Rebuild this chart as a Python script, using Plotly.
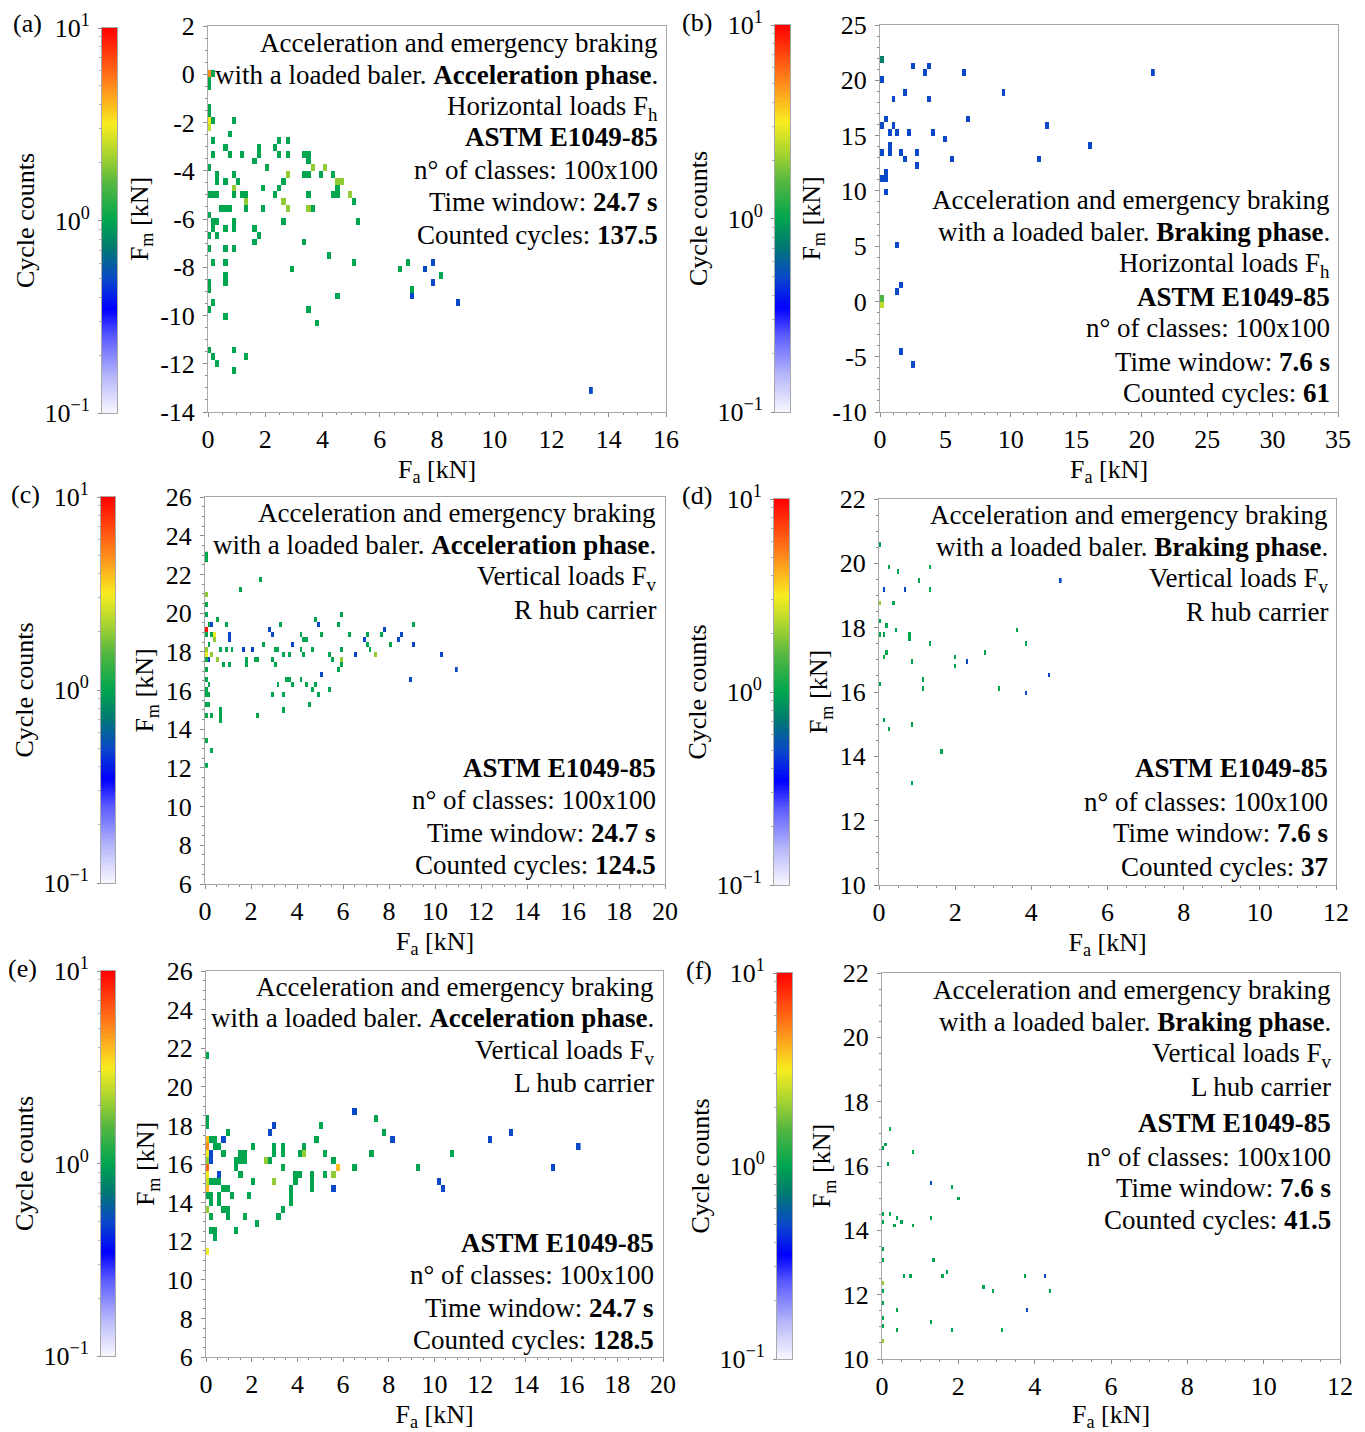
import numpy as np
import plotly.graph_objects as go

W, H = 1365, 1432
FONT = "Liberation Serif"

# ---------------- data: rainflow matrix cells (Fa [kN], Fm [kN], cycle count) ----------------
cells_a = [
    (0.0, 0.07, 5), (0.17, 0.0, 1), (0.0, -0.24, 1), (0.0, -0.54, 1), (0.0, -1.4, 1), (0.0, -1.7, 1),
    (0.0, -1.96, 3), (0.0, -2.2, 2.5), (0.17, -1.96, 1), (0.9, -1.96, 1), (0.74, -2.5, 1), (0.2, -2.8, 1),
    (0.6, -3.03, 1), (0.2, -3.34, 1), (0.74, -3.34, 1), (1.17, -3.34, 1), (1.58, -3.6, 1), (1.74, -3.07, 1),
    (1.74, -3.34, 1), (2.29, -3.07, 1), (2.44, -2.8, 1), (2.44, -3.34, 1), (2.84, -2.8, 1), (2.84, -3.34, 1),
    (2.0, -3.9, 1), (0.0, -3.9, 1), (3.4, -3.34, 1), (3.53, -3.34, 1), (3.53, -3.62, 1), (3.68, -3.9, 2),
    (4.14, -3.9, 2), (2.84, -4.17, 2), (3.4, -4.17, 1), (3.53, -4.17, 1), (3.96, -4.17, 1), (4.38, -4.17, 1),
    (4.53, -4.45, 2), (4.68, -4.45, 2), (4.53, -4.72, 1), (0.32, -4.17, 1), (0.32, -4.45, 1), (0.6, -4.45, 1),
    (0.9, -4.17, 1), (1.0, -4.45, 1), (0.9, -4.72, 2), (1.86, -4.72, 1), (2.44, -4.72, 1), (2.65, -4.45, 1),
    (2.29, -5.0, 1), (2.6, -5.27, 2), (2.84, -5.55, 2), (3.53, -5.0, 1), (3.53, -5.55, 2), (3.68, -5.55, 1),
    (4.41, -5.0, 1), (4.53, -5.0, 1), (4.96, -5.0, 2), (5.11, -5.27, 1), (5.23, -6.1, 1), (0.0, -5.0, 1),
    (0.17, -5.0, 1), (0.32, -5.0, 1), (0.9, -5.0, 1), (1.17, -5.0, 1), (1.32, -5.0, 1), (1.32, -5.27, 2),
    (1.86, -5.55, 1), (1.32, -5.55, 1), (0.47, -5.55, 1), (0.6, -5.55, 1), (0.74, -5.55, 1), (0.0, -5.83, 1),
    (0.17, -6.1, 1), (0.32, -6.1, 1), (0.9, -6.1, 1), (2.6, -6.1, 1), (0.17, -6.42, 1), (0.6, -6.42, 1),
    (0.9, -6.42, 1), (1.6, -6.42, 1), (1.74, -6.7, 1), (1.6, -6.97, 1), (0.0, -6.7, 1), (0.32, -6.7, 1),
    (3.4, -6.97, 1), (0.0, -7.25, 1), (0.6, -7.25, 1), (0.9, -7.25, 1), (4.26, -7.55, 1), (0.17, -7.83, 1),
    (0.6, -7.83, 1), (2.99, -8.1, 1), (5.11, -7.83, 1), (0.6, -8.38, 1), (0.6, -8.66, 1), (0.0, -8.66, 1),
    (0.0, -8.93, 1), (6.63, -8.1, 1), (6.93, -7.83, 1), (7.2, -8.93, 1), (7.2, -9.2, 0.5), (7.63, -8.1, 0.5),
    (7.9, -7.83, 0.5), (7.9, -8.66, 0.5), (8.17, -8.38, 1), (8.75, -9.51, 0.5), (4.53, -9.2, 1), (0.17, -9.51, 1),
    (0.0, -9.79, 1), (0.6, -10.06, 1), (3.53, -9.79, 1), (3.84, -10.34, 1), (0.0, -11.45, 1), (0.17, -11.72, 1),
    (0.32, -12.0, 1), (0.9, -11.45, 1), (1.32, -11.72, 1), (0.9, -12.27, 1), (13.36, -13.14, 0.5),
]

cells_b = [
    (0.13, 21.9, 0.75), (0.13, 20.1, 0.5), (2.57, 21.3, 0.5), (3.74, 21.3, 0.5), (3.47, 20.7, 0.5),
    (6.47, 20.7, 0.5), (20.85, 20.7, 0.5), (1.97, 18.9, 0.5), (9.44, 18.9, 0.5), (1.03, 18.3, 0.5),
    (3.74, 18.3, 0.5), (0.43, 16.5, 0.5), (6.74, 16.5, 0.5), (0.13, 15.9, 0.5), (1.03, 15.9, 0.5),
    (12.75, 15.9, 0.5), (0.73, 15.3, 0.5), (1.33, 15.3, 0.5), (2.24, 15.3, 0.5), (4.07, 15.3, 0.5),
    (4.94, 14.7, 0.5), (0.73, 14.1, 0.5), (16.05, 14.1, 0.5), (0.13, 13.5, 0.5), (0.73, 13.5, 0.5),
    (1.67, 13.5, 0.5), (2.84, 13.5, 0.5), (1.97, 12.9, 0.5), (5.54, 12.9, 0.5), (12.15, 12.9, 0.5),
    (2.84, 12.3, 0.5), (0.43, 11.7, 0.5), (0.13, 11.1, 0.5), (0.43, 11.1, 0.5), (0.43, 9.9, 0.5),
    (1.33, 5.1, 0.5), (1.67, 1.5, 0.5), (1.33, 0.9, 0.5), (0.13, 0.3, 1.5), (0.13, -0.3, 2.5),
    (1.67, -4.5, 0.5), (2.57, -5.7, 0.5),
]

cells_c = [
    (0.05, 22.94, 1), (0.05, 22.68, 1), (2.4, 21.76, 1), (1.5, 21.2, 1), (0.05, 20.98, 2), (0.05, 20.42, 1),
    (0.05, 19.9, 1), (0.6, 19.64, 1), (0.22, 19.38, 1), (0.33, 19.38, 0.5), (0.92, 19.38, 1), (3.28, 19.38, 1),
    (4.85, 19.64, 1), (5.87, 19.9, 1), (5.74, 19.38, 1), (9.09, 19.38, 1), (4.94, 19.38, 0.5), (0.05, 19.13, 9),
    (0.05, 18.87, 1), (0.33, 18.87, 1), (0.4, 18.87, 3), (0.4, 18.6, 2), (1.04, 18.6, 0.5), (1.1, 18.87, 0.5),
    (2.75, 19.13, 0.5), (2.87, 18.87, 0.5), (4.17, 18.87, 1), (4.34, 18.6, 1), (4.45, 18.6, 1), (5.07, 18.87, 1),
    (6.26, 18.87, 1), (7.0, 18.87, 1), (6.9, 18.6, 0.5), (7.68, 18.87, 1), (7.81, 19.13, 0.5), (8.58, 18.87, 0.5),
    (8.47, 18.6, 0.5), (9.09, 18.35, 0.5), (8.08, 18.35, 1), (7.0, 18.35, 1), (7.15, 18.1, 1), (7.4, 17.84, 2),
    (6.5, 17.84, 0.5), (10.28, 17.84, 0.5), (10.92, 17.06, 0.5), (3.79, 18.35, 0.5), (2.49, 18.35, 1),
    (0.15, 18.35, 1), (0.05, 18.1, 2), (0.7, 18.1, 1), (0.93, 18.1, 1), (1.21, 18.1, 1), (1.66, 18.1, 0.5),
    (2.1, 18.1, 0.5), (3.02, 18.1, 1), (3.13, 18.1, 1), (4.17, 18.1, 1), (4.7, 18.1, 1), (5.87, 18.1, 1),
    (0.05, 17.84, 3), (0.33, 17.84, 2), (3.4, 17.84, 1), (3.66, 17.84, 1), (4.3, 17.84, 1), (5.45, 17.84, 1),
    (0.05, 17.58, 1), (0.15, 17.58, 0.5), (0.55, 17.58, 2), (1.74, 17.58, 1), (2.15, 17.58, 1), (2.34, 17.58, 1),
    (2.9, 17.58, 1), (5.58, 17.58, 1), (5.87, 17.58, 2), (0.82, 17.32, 1), (1.1, 17.32, 1), (1.74, 17.32, 1),
    (3.02, 17.32, 1), (5.98, 17.32, 1), (0.05, 17.06, 1), (5.74, 17.06, 1), (5.07, 16.8, 0.5), (3.51, 16.55, 1),
    (3.66, 16.55, 1), (4.17, 16.55, 1), (8.98, 16.55, 0.5), (0.05, 16.55, 1), (0.15, 16.29, 1), (3.13, 16.29, 1),
    (3.79, 16.29, 1), (4.45, 16.29, 1), (4.85, 16.29, 1), (0.05, 16.03, 1), (4.7, 16.03, 1), (5.45, 16.03, 1),
    (0.05, 15.77, 1), (0.15, 15.77, 1), (2.9, 15.77, 1), (3.4, 15.77, 1), (4.94, 15.77, 1), (0.05, 15.25, 1),
    (0.15, 15.25, 1), (4.57, 15.25, 1), (3.4, 14.99, 1), (0.05, 14.73, 1), (0.28, 14.73, 1), (0.68, 14.99, 1),
    (0.68, 14.73, 1), (0.68, 14.47, 1), (2.34, 14.73, 1), (0.05, 13.44, 1), (0.28, 12.92, 1), (0.05, 12.14, 1),
]

cells_d = [
    (0.02, 20.58, 1), (0.25, 19.89, 1), (0.53, 19.75, 1), (1.36, 19.89, 1), (1.02, 19.47, 1),
    (0.11, 19.18, 0.5), (0.67, 19.18, 0.5), (1.31, 19.18, 1), (4.74, 19.47, 0.5), (0.02, 18.77, 2),
    (0.39, 18.77, 1), (0.02, 18.2, 1), (0.18, 18.06, 1), (0.02, 17.79, 1), (0.11, 17.79, 1), (0.46, 17.92, 1),
    (0.81, 17.79, 1), (0.81, 17.65, 1), (1.36, 17.51, 1), (3.6, 17.94, 1), (3.89, 17.51, 1), (0.18, 17.23, 1),
    (0.11, 17.09, 1), (0.88, 16.95, 1), (2.0, 17.09, 1), (2.0, 16.81, 1), (2.28, 16.95, 0.5), (2.78, 17.23, 1),
    (4.46, 16.53, 0.5), (1.16, 16.38, 1), (1.16, 16.1, 1), (0.02, 16.26, 1), (3.12, 16.1, 1), (3.89, 15.97, 0.5),
    (0.11, 15.14, 1), (0.25, 14.85, 1), (0.88, 15.0, 1), (1.65, 14.16, 1), (0.88, 13.17, 1),
]

cells_e = [
    (0.03, 21.57, 1), (0.03, 18.37, 1), (0.03, 18.03, 1), (6.52, 18.72, 0.5), (7.41, 18.37, 1),
    (2.92, 18.03, 0.5), (5.08, 18.03, 1), (2.73, 17.65, 0.5), (0.93, 17.65, 1), (7.77, 17.65, 1),
    (8.13, 17.29, 0.5), (4.89, 17.29, 1), (13.37, 17.65, 0.5), (12.47, 17.29, 0.5), (16.25, 16.91, 0.5),
    (10.84, 16.56, 1), (7.24, 16.56, 1), (0.03, 17.29, 4), (0.23, 17.29, 1), (0.38, 17.29, 1),
    (0.74, 17.29, 0.5), (0.03, 16.91, 5), (0.38, 16.91, 1), (0.57, 16.91, 1), (2.01, 16.91, 1),
    (2.92, 16.91, 1), (3.45, 16.91, 1), (4.36, 16.91, 1), (0.03, 16.56, 3), (0.23, 16.56, 0.5),
    (0.74, 16.56, 1), (1.48, 16.56, 1), (1.65, 16.56, 1), (2.92, 16.56, 1), (3.45, 16.56, 1), (4.02, 16.56, 1),
    (4.17, 16.56, 1), (4.36, 16.56, 2), (5.27, 16.56, 1), (0.03, 16.22, 2), (0.23, 16.22, 0.5),
    (1.31, 16.22, 1), (1.48, 16.22, 1), (1.65, 16.22, 1), (2.54, 16.22, 2), (2.73, 16.22, 1), (5.61, 16.22, 1),
    (0.03, 15.84, 6), (1.31, 15.84, 1), (3.28, 15.84, 1), (5.78, 15.84, 4), (6.52, 15.84, 1), (9.23, 15.84, 1),
    (15.17, 15.84, 0.5), (0.03, 15.47, 3), (0.57, 15.47, 0.5), (1.48, 15.47, 1), (4.0, 15.47, 1),
    (4.17, 15.47, 1), (4.72, 15.47, 1), (5.27, 15.47, 1), (5.61, 15.47, 2), (0.03, 15.09, 2.5),
    (0.23, 15.09, 1), (0.38, 15.09, 1), (0.57, 15.09, 1), (2.01, 15.09, 1), (2.92, 15.09, 2), (3.83, 15.09, 1),
    (4.72, 15.09, 1), (10.25, 15.09, 0.5), (0.03, 14.75, 4), (0.74, 14.75, 1), (0.93, 14.75, 1),
    (3.64, 14.75, 1), (4.72, 14.75, 1), (5.61, 14.75, 0.5), (10.46, 14.75, 0.5), (0.03, 14.4, 1),
    (0.23, 14.4, 1), (0.57, 14.4, 1), (1.12, 14.4, 1), (1.84, 14.4, 1), (3.64, 14.4, 1), (0.23, 14.02, 1),
    (0.57, 14.02, 1), (3.64, 14.02, 1), (0.03, 13.66, 2), (0.74, 13.66, 1), (0.93, 13.66, 1), (3.28, 13.66, 1),
    (0.23, 13.28, 1), (0.93, 13.28, 1), (1.65, 13.28, 1), (3.09, 13.28, 1), (2.2, 12.94, 1), (0.23, 12.59, 1),
    (0.38, 12.59, 1), (1.31, 12.59, 1), (0.38, 12.25, 1), (0.03, 11.5, 3),
]

cells_f = [
    (0.22, 17.15, 1), (0.03, 16.55, 1), (0.09, 16.67, 1), (0.15, 16.07, 1), (0.82, 16.43, 1),
    (1.3, 15.47, 0.5), (1.84, 15.35, 1), (2.02, 14.99, 1), (0.03, 14.51, 1), (0.03, 14.27, 1),
    (0.22, 14.51, 1), (0.4, 14.39, 1), (0.51, 14.27, 1), (0.33, 14.15, 1), (0.82, 14.15, 1), (1.3, 14.39, 1),
    (0.03, 13.43, 1), (0.03, 13.07, 1), (1.36, 13.07, 1), (0.56, 12.59, 1), (0.74, 12.59, 1), (1.6, 12.59, 1),
    (1.7, 12.71, 1), (3.75, 12.59, 1), (4.3, 12.59, 0.5), (0.03, 12.35, 2), (0.03, 12.11, 1), (2.68, 12.23, 1),
    (2.9, 12.11, 1), (4.41, 12.11, 1), (0.03, 11.75, 1), (0.4, 11.51, 1), (3.82, 11.51, 0.5), (0.03, 11.27, 1),
    (0.03, 11.03, 1), (1.3, 11.15, 1), (0.4, 10.91, 1), (1.84, 10.91, 1), (3.16, 10.91, 1), (0.03, 10.55, 2),
]

# tick values per panel
xticks_a = [0, 2, 4, 6, 8, 10, 12, 14, 16]
yticks_a = [-14, -12, -10, -8, -6, -4, -2, 0, 2]
xticks_b = [0, 5, 10, 15, 20, 25, 30, 35]
yticks_b = [-10, -5, 0, 5, 10, 15, 20, 25]
xticks_c = [0, 2, 4, 6, 8, 10, 12, 14, 16, 18, 20]
yticks_c = [6, 8, 10, 12, 14, 16, 18, 20, 22, 24, 26]
xticks_d = [0, 2, 4, 6, 8, 10, 12]
yticks_d = [10, 12, 14, 16, 18, 20, 22]

cbar_ticks = [-1, 0, 1]
cbar_labels = ["10<sup>\u22121</sup>", "10<sup>0</sup>", "10<sup>1</sup>"]
cbar_minor = [float(np.log10(m * d)) for d in (0.1, 1.0) for m in range(2, 10)]

text_a = ["Acceleration and emergency braking", "with a loaded baler. <b>Acceleration phase</b>.",
          "Horizontal loads F<sub>h</sub>", "<b>ASTM E1049-85</b>", "n\u00b0 of classes: 100x100",
          "Time window: <b>24.7 s</b>", "Counted cycles: <b>137.5</b>"]
text_b = ["Acceleration and emergency braking", "with a loaded baler. <b>Braking phase</b>.",
          "Horizontal loads F<sub>h</sub>", "<b>ASTM E1049-85</b>", "n\u00b0 of classes: 100x100",
          "Time window: <b>7.6 s</b>", "Counted cycles: <b>61</b>"]
text_c = ["Acceleration and emergency braking", "with a loaded baler. <b>Acceleration phase</b>.",
          "Vertical loads F<sub>v</sub>", "R hub carrier", "<b>ASTM E1049-85</b>", "n\u00b0 of classes: 100x100",
          "Time window: <b>24.7 s</b>", "Counted cycles: <b>124.5</b>"]
text_d = ["Acceleration and emergency braking", "with a loaded baler. <b>Braking phase</b>.",
          "Vertical loads F<sub>v</sub>", "R hub carrier", "<b>ASTM E1049-85</b>", "n\u00b0 of classes: 100x100",
          "Time window: <b>7.6 s</b>", "Counted cycles: <b>37</b>"]
text_e = ["Acceleration and emergency braking", "with a loaded baler. <b>Acceleration phase</b>.",
          "Vertical loads F<sub>v</sub>", "L hub carrier", "<b>ASTM E1049-85</b>", "n\u00b0 of classes: 100x100",
          "Time window: <b>24.7 s</b>", "Counted cycles: <b>128.5</b>"]
text_f = ["Acceleration and emergency braking", "with a loaded baler. <b>Braking phase</b>.",
          "Vertical loads F<sub>v</sub>", "L hub carrier", "<b>ASTM E1049-85</b>", "n\u00b0 of classes: 100x100",
          "Time window: <b>7.6 s</b>", "Counted cycles: <b>41.5</b>"]

# ---------------- styling / layout geometry (pixels) ----------------
COLORSCALE = [
    [0.00, "#f8f8ff"], [0.10, "#b4b4fa"], [0.20, "#5a5aff"], [0.27, "#0000ff"],
    [0.35, "#0a48c8"], [0.43, "#007a70"], [0.50, "#00a550"], [0.60, "#58b840"],
    [0.67, "#a8d430"], [0.75, "#f8ec20"], [0.85, "#ff8a1c"], [1.00, "#ff0000"],
]

panels = [
    dict(label="(a)", cells=cells_a, grid=(0.145, 0.28, 0.03, -5.0), xt=xticks_a, yt=yticks_a,
         plot=(208, 666, 26, 412), cbar=(102, 117, 28, 413), lab=(27, 23),
         text=text_a, tx=660, ty=[43, 75, 108, 137, 170, 202, 235]),
    dict(label="(b)", cells=cells_b, grid=(0.3, 0.6, 0.13, 0.3), xt=xticks_b, yt=yticks_b,
         plot=(880, 1338, 25, 412), cbar=(775, 790, 25, 412), lab=(697, 22),
         text=text_b, tx=1332, ty=[200, 232, 265, 297, 328, 362, 393]),
    dict(label="(c)", cells=cells_c, grid=(0.125, 0.26, 0.05, 18.1), xt=xticks_c, yt=yticks_c,
         plot=(205, 665, 497, 884), cbar=(101, 115, 497, 883), lab=(25, 495),
         text=text_c, tx=658, ty=[513, 545, 578, 610, 768, 800, 833, 865]),
    dict(label="(d)", cells=cells_d, grid=(0.06, 0.14, 0.02, 17.79), xt=xticks_d, yt=yticks_d,
         plot=(879, 1336, 499, 885), cbar=(774, 789, 499, 885), lab=(697, 496),
         text=text_d, tx=1330, ty=[515, 547, 580, 612, 768, 802, 833, 867]),
    dict(label="(e)", cells=cells_e, grid=(0.185, 0.362, 0.03, 15.84), xt=xticks_c, yt=yticks_c,
         plot=(206, 663, 971, 1357), cbar=(101, 115, 971, 1356), lab=(22, 968),
         text=text_e, tx=656, ty=[987, 1018, 1052, 1083, 1243, 1275, 1308, 1340]),
    dict(label="(f)", cells=cells_f, grid=(0.06, 0.12, 0.03, 12.59), xt=xticks_d, yt=yticks_d,
         plot=(882, 1340, 973, 1359), cbar=(777, 792, 973, 1359), lab=(699, 970),
         text=text_f, tx=1333, ty=[990, 1022, 1055, 1087, 1123, 1157, 1188, 1220]),
]


def pxx(x):
    return x / W


def pxy(y):
    return 1 - y / H


def build_grid(cells, dx, dy, x0, y0):
    fa = np.array([c[0] for c in cells])
    fm = np.array([c[1] for c in cells])
    nn = np.array([c[2] for c in cells], dtype=float)
    ix = np.rint((fa - x0) / dx).astype(int)
    iy = np.rint((fm - y0) / dy).astype(int)
    z = [[None] * (ix.max() - ix.min() + 1) for _ in range(iy.max() - iy.min() + 1)]
    for a, b, v in zip(ix, iy, nn):
        z[b - iy.min()][a - ix.min()] = float(np.log10(v))
    xs = (x0 + dx * np.arange(ix.min(), ix.max() + 1)).tolist()
    ys = (y0 + dy * np.arange(iy.min(), iy.max() + 1)).tolist()
    return xs, ys, z


FS = 26
tickfont = dict(family=FONT, size=FS, color="black")
txtfont = dict(family=FONT, size=27, color="black")
LINE = "#a8a8a8"
TICK = "#8c8c8c"

fig = go.Figure()
layout = dict(
    template="none",
    width=W, height=H, margin=dict(l=0, r=0, t=0, b=0, pad=0), autosize=False,
    paper_bgcolor="white", plot_bgcolor="white", showlegend=False,
    font=dict(family=FONT, size=FS, color="black"),
)
annotations = []
grad = np.linspace(-1, 1, 241)

for i, p in enumerate(panels):
    km, kc = 2 * i + 1, 2 * i + 2
    dx, dy, x0, y0 = p["grid"]
    xs, ys, z = build_grid(p["cells"], dx, dy, x0, y0)
    fig.add_trace(go.Heatmap(x=xs, y=ys, z=z, zmin=-1, zmax=1, colorscale=COLORSCALE,
                             showscale=False, hoverinfo="skip", xaxis=f"x{km}", yaxis=f"y{km}"))
    fig.add_trace(go.Heatmap(x=[0], y=grad.tolist(), z=[[float(g)] for g in grad], zmin=-1, zmax=1,
                             colorscale=COLORSCALE, showscale=False, hoverinfo="skip",
                             xaxis=f"x{kc}", yaxis=f"y{kc}"))
    l, r, t, b = p["plot"]
    xt, yt = p["xt"], p["yt"]
    xminor = 1 if xt[1] - xt[0] == 5 else 0.5
    yminor = 1 if yt[1] - yt[0] == 5 else 0.5
    layout[f"xaxis{km}"] = dict(
        domain=[pxx(l), pxx(r)], anchor=f"y{km}", range=[xt[0], xt[-1]], automargin=False,
        tickmode="array", tickvals=xt, ticktext=[str(v) for v in xt],
        ticks="outside", ticklen=4, tickcolor=TICK, tickwidth=1, ticklabelstandoff=0,
        minor=dict(tickmode="linear", tick0=0, dtick=xminor, ticks="outside", ticklen=2, tickcolor=TICK),
        showline=True, mirror=True, linecolor=LINE, linewidth=1, showgrid=False, zeroline=False,
        tickfont=tickfont, title=dict(text="F<sub>a</sub> [kN]", font=tickfont, standoff=6),
    )
    layout[f"yaxis{km}"] = dict(
        domain=[pxy(b), pxy(t)], anchor=f"x{km}", range=[yt[0], yt[-1]], automargin=False,
        tickmode="array", tickvals=yt, ticktext=[str(v) for v in yt],
        ticks="outside", ticklen=4, tickcolor=TICK, tickwidth=1, ticklabelstandoff=3,
        minor=dict(tickmode="linear", tick0=0, dtick=yminor, ticks="outside", ticklen=2, tickcolor=TICK),
        showline=True, mirror=True, linecolor=LINE, linewidth=1, showgrid=False, zeroline=False,
        tickfont=tickfont, title=dict(text="F<sub>m</sub> [kN]", font=tickfont, standoff=4),
    )
    cl, cr, ct, cb = p["cbar"]
    layout[f"xaxis{kc}"] = dict(
        domain=[pxx(cl), pxx(cr)], anchor=f"y{kc}", range=[-0.5, 0.5], automargin=False,
        showticklabels=False, ticks="", showline=True, mirror=True, linecolor=LINE,
        linewidth=1, showgrid=False, zeroline=False, fixedrange=True,
    )
    layout[f"yaxis{kc}"] = dict(
        domain=[pxy(cb), pxy(ct)], anchor=f"x{kc}", range=[-1, 1], side="left", automargin=False,
        tickmode="array", tickvals=cbar_ticks, ticktext=cbar_labels,
        ticks="outside", ticklen=3, tickcolor=TICK, ticklabelstandoff=3,
        minor=dict(tickmode="array", tickvals=cbar_minor, ticks="outside", ticklen=2, tickcolor="#b0b0b0"),
        showline=True, mirror=True, linecolor=LINE, linewidth=1, showgrid=False, zeroline=False,
        tickfont=tickfont, title=dict(text="Cycle counts", font=tickfont, standoff=2),
    )
    lx, ly = p["lab"]
    annotations.append(dict(text=p["label"], x=pxx(lx), y=pxy(ly), xref="paper", yref="paper",
                            xanchor="center", yanchor="middle", showarrow=False, font=tickfont))
    for line, yy in zip(p["text"], p["ty"]):
        annotations.append(dict(text=line, x=pxx(p["tx"]), y=pxy(yy), xref="paper", yref="paper",
                                xanchor="right", yanchor="middle", showarrow=False, font=txtfont))

layout["annotations"] = annotations
fig.update_layout(**layout)

fig.write_html("out.html", config={"displayModeBar": False},
               post_script="document.body.style.margin='0';document.body.style.overflow='hidden';")
